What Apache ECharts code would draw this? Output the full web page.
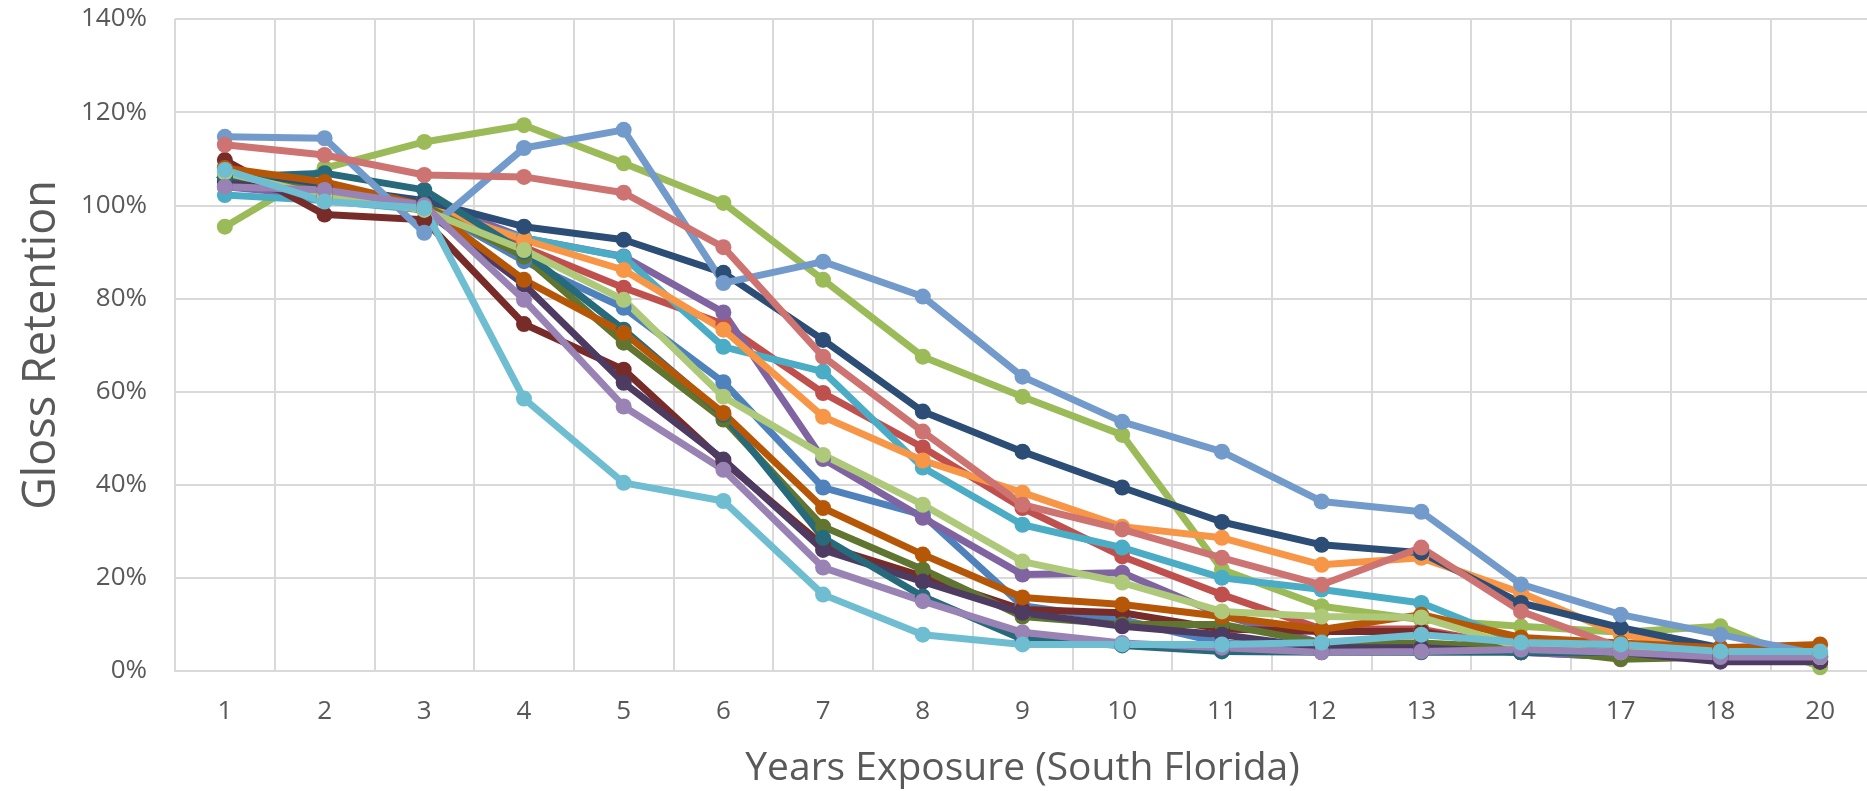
<!DOCTYPE html>
<html>
<head>
<meta charset="utf-8">
<script src="https://cdn.jsdelivr.net/npm/echarts@6/dist/echarts.min.js"></script>
<style>
html,body{margin:0;padding:0;background:#fff;}
#c{width:1867px;height:791px;}
</style>
</head>
<body>
<div id="c"></div>
<script>
const categories = ['1','2','3','4','5','6','7','8','9','10','11','12','13','14','17','18','20'];
const yTicks = [0,20,40,60,80,100,120,140];

const sBlue       = [106,103,100,88,78,62,39.4,33.5,14,11,6,5,5,4,3,3,3];
const sRed        = [108,104,100,91,82.3,74.5,59.7,48,35,24.6,16.4,9,9,5,4,3,3];
const sGreen      = [95.4,108,113.6,117.2,109,100.5,84,67.5,58.9,50.7,21.8,13.9,11,9.6,8.3,9.6,0.8];
const sPurple     = [104,102,101.2,93,89,77,45.5,32.9,20.7,21.1,12,6,5,4,3,3,2];
const sAqua       = [102.2,101,99,93,88.9,69.6,64.3,43.7,31.4,26.5,20,17.5,14.6,6,5,4,3];
const sOrange     = [107,103,100,92.6,86.1,73.3,54.6,45.2,38.3,31,28.6,22.8,24.3,16.8,7.8,5,4];
const sNavy       = [106,104,101,95.4,92.6,85.5,71.1,55.7,47.1,39.4,32,27.1,25.4,14.6,9.3,5,3.5];
const sMaroon     = [109.7,98,96.9,74.5,64.7,45,27,20.3,13.2,12.5,9,8.5,8.5,5,4,3,2];
const sDarkGreen  = [106,103,100,89,70.5,54,31,21.8,11.7,10,10,6,6,5,2.5,3,3];
const sDarkPurple = [105,102,99,83,61.9,45.4,26,19.2,12.5,9.6,7.8,5,5,4,4,2,2];
const sTeal       = [106,106.9,103.3,90,73.3,55,28.6,16,6.8,5.5,4.2,4,4,4,4,4,3];
const sDarkOrange = [108,105,100,84,72.6,55.4,35,25,15.8,14.3,11.7,8.9,12.1,7.2,6,5,5.7];
const sLightBlue  = [114.7,114.4,94.1,112.3,116.2,83.3,87.9,80.4,63.2,53.5,47.1,36.4,34.2,18.6,12.1,7.8,3.5];
const sPink       = [113,110.8,106.5,106.1,102.7,91,67.5,51.4,35.7,30.4,24.3,18.5,26.5,12.8,5,4,3];
const sLightGreen = [107,102,99,90.4,79.7,58.9,46.4,35.7,23.5,19,12.8,11.7,11.5,5,4,4,3];
const sLavender   = [104,103.3,100,79.7,56.8,43.2,22.2,15,8.3,6,5,4,4.2,4.6,4,3,3];
const sLightAqua  = [107.6,100.8,99.4,58.5,40.4,36.5,16.4,7.8,5.7,5.7,5.7,6.1,7.8,6.1,5.7,4.2,4.2];

const seriesList = [
  ['Blue', sBlue, '#4F81BD'],
  ['Red', sRed, '#C0504D'],
  ['Green', sGreen, '#9BBB59'],
  ['Purple', sPurple, '#8064A2'],
  ['Aqua', sAqua, '#4BACC6'],
  ['Orange', sOrange, '#F79646'],
  ['Navy', sNavy, '#2C4D75'],
  ['Maroon', sMaroon, '#772C2A'],
  ['DarkGreen', sDarkGreen, '#5F7530'],
  ['DarkPurple', sDarkPurple, '#4D3B62'],
  ['Teal', sTeal, '#276A7C'],
  ['DarkOrange', sDarkOrange, '#B65708'],
  ['LightBlue', sLightBlue, '#729ACA'],
  ['Pink', sPink, '#CD7371'],
  ['LightGreen', sLightGreen, '#AFC97A'],
  ['Lavender', sLavender, '#9983B5'],
  ['LightAqua', sLightAqua, '#6FBDD1']
];

const FONT = '"Open Sans", sans-serif';
const chart = echarts.init(document.getElementById('c'), null, {renderer: 'canvas'});
chart.setOption({
  animation: false,
  backgroundColor: '#ffffff',
  grid: {left: 175, top: 19, width: 1695, height: 652, containLabel: false, outerBoundsMode: 'none'},
  xAxis: {
    type: 'category',
    data: categories,
    boundaryGap: true,
    name: 'Years Exposure (South Florida)',
    nameLocation: 'middle',
    nameGap: 78,
    nameTextStyle: {fontFamily: FONT, fontSize: 39, color: '#595959'},
    axisLine: {show: true, lineStyle: {color: '#d9d9d9', width: 2}},
    axisTick: {show: false},
    axisLabel: {fontFamily: FONT, fontSize: 26, color: '#595959', margin: 28},
    splitLine: {show: true, lineStyle: {color: '#d9d9d9', width: 2}}
  },
  yAxis: {
    type: 'value',
    min: yTicks[0],
    max: yTicks[yTicks.length - 1],
    interval: 20,
    name: 'Gloss Retention',
    nameLocation: 'middle',
    nameGap: 110,
    nameRotate: 90,
    nameTextStyle: {fontFamily: FONT, fontSize: 45, color: '#595959'},
    axisLine: {show: false},
    axisTick: {show: false},
    axisLabel: {fontFamily: FONT, fontSize: 26, color: '#595959', margin: 28, formatter: '{value}%'},
    splitLine: {show: true, lineStyle: {color: '#d9d9d9', width: 2}}
  },
  series: seriesList.map(([name, data, color]) => ({
    name: name,
    type: 'line',
    data: data,
    symbol: 'circle',
    symbolSize: 16,
    lineStyle: {color: color, width: 7},
    itemStyle: {color: color},
    emphasis: {disabled: true}
  }))
});
</script>
</body>
</html>
